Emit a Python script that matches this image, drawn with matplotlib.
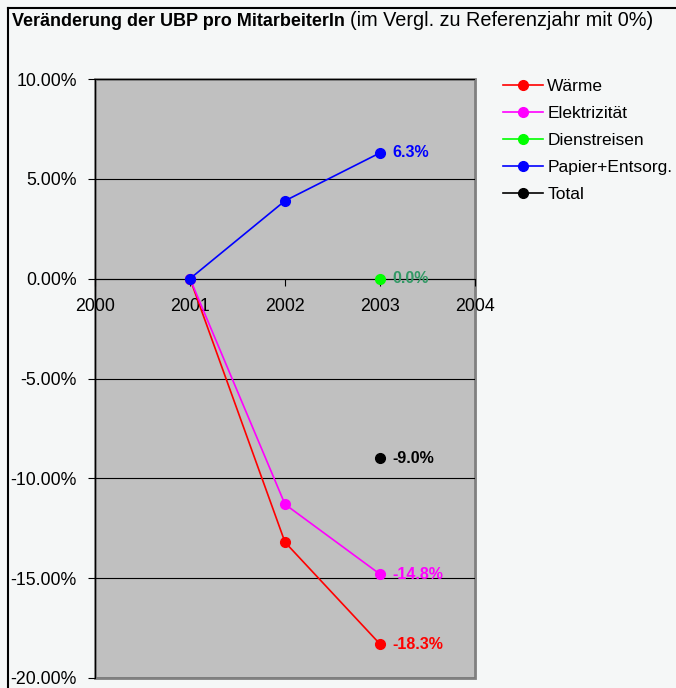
import numpy as np
import matplotlib.pyplot as plt
from matplotlib.lines import Line2D
from matplotlib.patches import Rectangle

plt.rcParams['font.family'] = ['Liberation Sans', 'DejaVu Sans']

years = [2001, 2002, 2003]
series_names = ["Wärme", "Elektrizität", "Dienstreisen", "Papier+Entsorg.", "Total"]
waerme = [0.0, -13.2, -18.3]
elektrizitaet = [0.0, -11.3, -14.8]
dienstreisen = [np.nan, np.nan, 0.0]
papier = [0.0, 3.9, 6.3]
total = [np.nan, np.nan, -9.0]
colors = ["#ff0000", "#ff00ff", "#00ff00", "#0000ff", "#000000"]
label_colors = ["#ff0000", "#ff00ff", "#339966", "#0000ff", "#000000"]
xticks = [2000, 2001, 2002, 2003, 2004]
yticks = [-20, -15, -10, -5, 0, 5, 10]

W, H = 676, 688
fig = plt.figure(figsize=(W / 100, H / 100), dpi=100)
fig.patch.set_facecolor("#f5f7f7")

ax = fig.add_axes([95 / W, 1 - 678 / H, 380 / W, 599 / H])
ax.set_facecolor("#c0c0c0")

all_series = [waerme, elektrizitaet, dienstreisen, papier, total]
for vals, name, c in zip(all_series, series_names, colors):
    ax.plot(years, vals, color=c, lw=1.2, marker="o", ms=7, label=name,
            zorder=3, clip_on=False)

# value labels at last year
for vals, lc in zip(all_series, label_colors):
    v = vals[-1]
    ax.annotate(f"{v:.1f}%", (years[-1], v), xytext=(12, 0),
                textcoords="offset pixels",
                va="center", ha="left", fontsize=11.5, fontweight="bold",
                color=lc, zorder=4)

ax.set_xlim(2000, 2004)
ax.set_ylim(-20, 10)
ax.set_xticks(xticks)
ax.set_xticklabels([str(x) for x in xticks])
ax.set_yticks(yticks)
ax.set_yticklabels([f"{y:.2f}%" for y in yticks])
ax.yaxis.grid(True, color="black", lw=0.8)
ax.set_axisbelow(True)

ax.spines["bottom"].set_position(("data", 0))
ax.spines["bottom"].set_color("black")
ax.spines["left"].set_color("black")
ax.spines["top"].set_visible(False)
ax.spines["right"].set_visible(False)
ax.add_patch(Rectangle((0, 0), 1, 1, transform=ax.transAxes, fill=False,
                       ec="#808080", lw=2, clip_on=False, zorder=0.5))
ax.tick_params(axis="both", direction="out", length=5, labelsize=12.8,
               color="black")
ax.tick_params(axis="x", pad=9)
ax.tick_params(axis="y", pad=8)

ax.legend(loc="upper left", bbox_to_anchor=(503 / W, 1 - 79 / H),
          bbox_transform=fig.transFigure, frameon=False, fontsize=12.5,
          handlelength=2.3, handletextpad=0.25, labelspacing=0.68,
          borderpad=0, borderaxespad=0)

# outer frame
fig.add_artist(Line2D([8 / W, 8 / W], [0, 1 - 8 / H], color="black", lw=1.5,
                      transform=fig.transFigure))
fig.add_artist(Line2D([8 / W, 1], [1 - 8 / H, 1 - 8 / H], color="black", lw=1.5,
                      transform=fig.transFigure))

# title in two parts
t1 = fig.text(12 / W, 1 - 21 / H, "Veränderung der UBP pro MitarbeiterIn",
              fontsize=13, fontweight="bold", va="center", ha="left")
fig.canvas.draw()
bb = t1.get_window_extent()
fig.text(bb.x1 / W + 5 / W, 1 - 21 / H, "(im Vergl. zu Referenzjahr mit 0%)",
         fontsize=14.3, va="center", ha="left")

fig.savefig("out.png", dpi=100, facecolor=fig.get_facecolor())
